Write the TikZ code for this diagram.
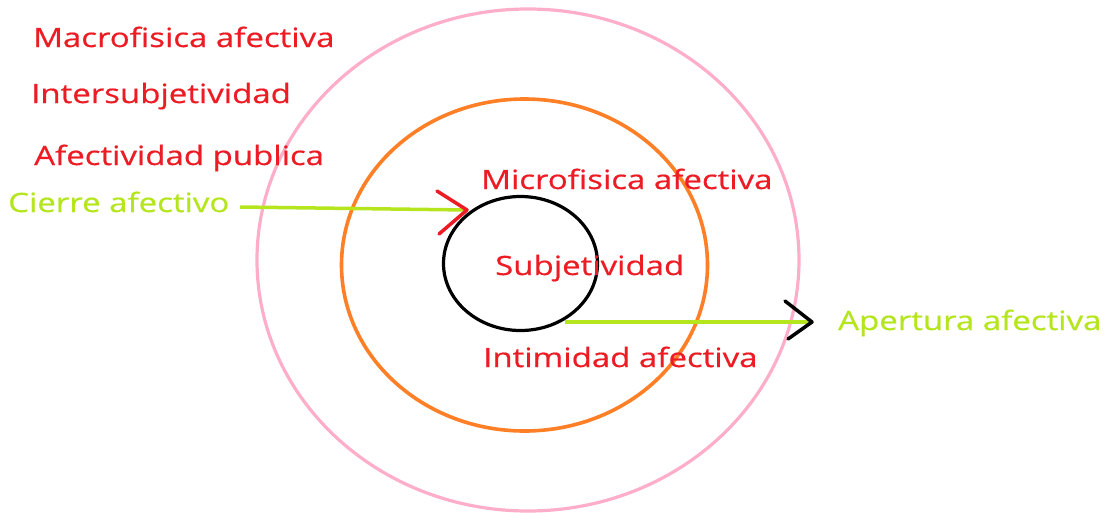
\documentclass[tikz,border=0pt]{standalone}
\usepackage{fontspec}
\setmainfont{Open Sans}
\newfontfamily\lblfont{Open Sans}[BoldFont={Open Sans},BoldFeatures={FakeBold=0.5}]
\definecolor{pred}{HTML}{ED1C24}
\definecolor{plime}{HTML}{B5E61D}
\definecolor{ppink}{HTML}{FFAEC9}
\definecolor{porange}{HTML}{FF7F27}
\newcommand{\wide}[1]{\scalebox{1.24}[1]{#1}}
\begin{document}
\begin{tikzpicture}[x=1pt,y=-1pt,
  lbl/.style={anchor=base west,inner sep=0pt,font=\lblfont\bfseries\fontsize{26.6}{32}\selectfont},
  redlbl/.style={lbl,text=pred},
  greenlbl/.style={lbl,text=plime},
  ring/.style={line width=3.2pt}]
\useasboundingbox (0,0) rectangle (1109,512);
\fill[white] (0,0) rectangle (1109,512);
% rings
\draw[ring,ppink] (528,260) ellipse [x radius=271,y radius=251];
\draw[ring,porange,line width=3.6pt] (524.5,265) ellipse [x radius=183,y radius=166];
\draw[ring,black] (520.5,263.5) ellipse [x radius=77,y radius=67];
% labels
\node[redlbl] (macro) at (33,47) {\wide{Macrofisica afectiva}};
\node[redlbl] (inter) at (31,103) {\wide{Intersubjetividad}};
\node[redlbl] (publ) at (34,165) {\wide{Afectividad publica}};
\node[greenlbl] (cierre) at (8,212) {\wide{Cierre afectivo}};
\node[redlbl] (micro) at (481,189) {\wide{Microfisica afectiva}};
\node[redlbl] (subj) at (495,275) {\wide{Subjetividad}};
\node[redlbl] (intim) at (483,367) {\wide{Intimidad afectiva}};
\node[greenlbl] (apert) at (838,330) {\wide{Apertura afectiva}};
% connectors
\coordinate (c1) at (240,207);
\coordinate (c2) at (467,210);
\coordinate (a1) at (565,322);
\coordinate (a2) at (812,322);
\draw[plime,line width=3.5pt] (c1) -- (c2);
\draw[pred,line width=3.5pt,line cap=round,line join=round] (437,191) -- (c2) -- (439,234);
\draw[plime,line width=3.5pt] (a1) -- (a2);
\draw[black,line width=3.5pt,line cap=round,line join=round] (785,301) -- (a2) -- (788,339);
\end{tikzpicture}
\end{document}
